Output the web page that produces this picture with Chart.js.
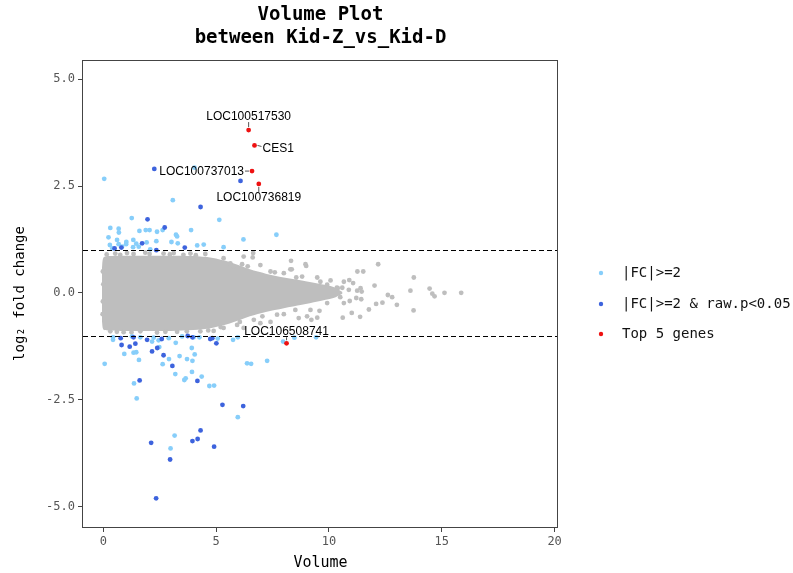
<!DOCTYPE html>
<html>
<head>
<meta charset="utf-8">
<script src="https://cdn.jsdelivr.net/npm/chart.js@4.4.1/dist/chart.umd.min.js"></script>
<style>
html,body{margin:0;padding:0;background:#fff;}
canvas{display:block;}
</style>
</head>
<body>
<canvas id="c" width="793" height="573"></canvas>
<script>
// ---------------- data ----------------
const titleLines = ['Volume Plot', 'between Kid-Z_vs_Kid-D'];
const xTitle = 'Volume';
const yTitle = 'log\u2082 fold change';
const xTicks = [0, 5, 10, 15, 20];
const yTicks = [-5, -2.5, 0, 2.5, 5];
const thresholds = [1, -1];
const legendLabels = ['|FC|>=2', '|FC|>=2 & raw.p<0.05', 'Top 5 genes'];

// top 5 genes (red)
const topGenes = ['LOC100517530', 'CES1', 'LOC100737013', 'LOC100736819', 'LOC106508741'];
const topX = [6.44, 6.70, 6.59, 6.89, 8.12];
const topY = [3.81, 3.45, 2.85, 2.55, -1.18];

// |FC|>=2 (light blue)
const fcX = [0.04,4.04,3.08,1.26,5.14,0.31,0.68,0.69,1.60,1.88,2.05,2.38,2.63,3.89,3.22,0.23,0.61,1.02,1.33,1.46,1.92,2.35,3.02,3.30,6.21,7.67,5.33,0.29,0.83,1.32,1.57,4.16,4.45,0.68,1.01,2.08,3.27,0.40,
  0.43,0.43,0.93,1.34,1.46,1.64,2.16,2.45,2.48,2.90,3.21,1.58,2.91,2.63,0.06,3.38,3.71,3.95,4.05,3.92,3.49,4.00,4.26,5.07,3.19,1.36,3.65,3.59,3.93,4.36,4.70,4.91,1.48,6.37,6.55,7.26,5.75,5.96,7.97,8.47,9.43,5.96,3.16,2.98,1.27,2.23];
const fcY = [2.67,2.93,2.17,1.75,1.71,1.52,1.50,1.41,1.45,1.47,1.47,1.43,1.47,1.47,1.36,1.30,1.24,1.19,1.24,1.15,1.18,1.21,1.19,1.16,1.25,1.36,1.07,1.12,1.08,1.07,1.08,1.11,1.13,1.14,1.14,1.02,1.32,1.04,
  -1.10,-1.04,-1.43,-1.40,-1.39,-1.04,-1.14,-1.11,-1.27,-1.06,-1.17,-1.57,-1.55,-1.67,-1.66,-1.48,-1.55,-1.59,-1.44,-1.29,-1.02,-1.04,-1.04,-1.07,-1.90,-2.12,-2.00,-2.04,-1.85,-1.96,-2.18,-2.17,-2.47,-1.65,-1.66,-1.59,-1.10,-1.04,-1.14,-1.05,-1.04,-2.91,-3.34,-3.64,-1.02,-1.05];

// |FC|>=2 & raw.p<0.05 (dark blue)
const sigX = [2.26,6.08,4.31,1.96,2.72,1.72,0.50,0.80,2.35,3.61,
  0.77,0.81,1.17,1.42,1.34,1.94,2.16,2.39,2.59,2.67,3.06,3.74,3.95,4.74,4.83,5.01,1.61,4.17,5.28,6.20,4.31,2.12,3.95,4.18,4.91,2.96,2.34];
const sigY = [2.90,2.62,2.01,1.72,1.53,1.16,1.04,1.06,1.00,1.06,
  -1.06,-1.22,-1.26,-1.19,-1.04,-1.10,-1.37,-1.29,-1.08,-1.46,-1.71,-1.01,-1.04,-1.08,-1.06,-1.18,-2.05,-2.06,-2.62,-2.65,-3.22,-3.51,-3.47,-3.42,-3.60,-3.90,-4.81];

// non-significant genes: dense core outline (upper / lower boundary of the cloud)
const cloudX =     [-0.06, 0.00, 0.20, 1.00, 2.00, 3.00, 4.00, 4.80, 5.60, 6.50, 7.20, 8.00, 8.80, 9.50, 10.20, 10.60];
const cloudUpper = [ 0.58, 0.82, 0.86, 0.87, 0.87, 0.87, 0.86, 0.82, 0.72, 0.55, 0.45, 0.36, 0.29, 0.22, 0.14, 0.02];
const cloudLower = [-0.66,-0.86,-0.88,-0.89,-0.89,-0.89,-0.87,-0.82,-0.72,-0.55,-0.45,-0.36,-0.28,-0.20,-0.12,-0.02];

// non-significant genes: individual points outside / on the edge of the dense core
const grayX = [6.22,6.62,8.32,8.35,8.99,12.18,11.26,11.52,13.76,10.07,10.66,10.90,11.07,12.02,10.39,10.59,11.40,11.45,11.25,10.88,12.61,12.80,13.61,14.46,14.58,14.68,15.12,15.86,
  10.66,10.92,11.21,11.43,12.09,12.37,13.01,11.77,11.01,10.61,11.38,13.75,9.58,9.22,8.00,8.66,9.03,9.48,6.96,7.41,6.22,8.51,5.78,6.15,6.96,8.29,8.96,8.81,9.48,6.64,
  0.53,1.05,1.34,1.86,2.67,3.12,3.86,4.52,0.31,0.90,1.64,2.38,3.27,4.30,4.89,-0.02,-0.03,0.00,-0.02,
  5.33,5.63,7.41,8.00,9.62,9.92,5.33,5.93,6.67,7.70,9.18,9.92,
  0.15,0.75,2.05,2.95,3.55,4.10,0.60,1.25,2.75,3.70,4.65,5.20,6.05,7.05,6.40,7.60,8.55,10.35,10.50];
const grayY = [0.85,0.83,0.75,0.55,0.63,0.67,0.50,0.50,0.36,0.29,0.26,0.30,0.23,0.17,0.11,0.12,0.11,0.03,0.05,0.07,-0.05,-0.10,0.05,0.10,-0.02,-0.08,0.00,0.00,
  -0.24,-0.19,-0.12,-0.15,-0.26,-0.23,-0.28,-0.39,-0.47,-0.58,-0.56,-0.41,-0.42,-0.63,-0.50,-0.59,-0.55,-0.58,-0.71,-0.68,-0.82,-0.40,0.61,0.67,0.65,0.55,0.67,0.38,0.36,0.93,
  0.92,0.93,0.91,0.94,0.92,0.93,0.92,0.91,-0.90,-0.92,-0.90,-0.93,-0.91,-0.90,-0.89,0.50,-0.50,0.20,-0.20,
  0.81,0.69,0.50,0.46,0.26,0.19,-0.82,-0.75,-0.63,-0.51,-0.40,-0.24,
  0.90,0.89,0.91,0.90,0.89,0.88,-0.91,-0.92,-0.91,-0.90,-0.88,-0.80,-0.68,-0.55,0.62,0.48,0.36,0.12,-0.10];

// ---------------- styles ----------------
const COL_GRAY = '#BEBEBE', COL_LIGHT = '#87CEFA', COL_DARK = '#3D63DD', COL_RED = '#EE1111';
const MONO = '"DejaVu Sans Mono", monospace';
const SANS = '"Liberation Sans", Arial, sans-serif';
const pts = (xs, ys) => xs.map((x, i) => ({x: x, y: ys[i]}));
const R = 2.4;

const legendColors = [COL_LIGHT, COL_DARK, COL_RED];
// label offsets (pixels) relative to each highlighted point, and leader segments
const labelLayout = [
  {dx: 0,   dy: -13, align: 'center', seg: [[0,-8],[0,-3]]},
  {dx: 8,   dy: 3,   align: 'left',   seg: [[3,0],[7,1]]},
  {dx: -8,  dy: 1,   align: 'right',  seg: [[-7,0],[-3,0]]},
  {dx: 0,   dy: 14,  align: 'center', seg: [[0,3],[0,8]]},
  {dx: 0,   dy: -12, align: 'center', seg: [[0,-6],[0,-3]]}
];

const framePlugin = {
  id: 'frame',
  afterDatasetsDraw(chart) {
    const {ctx, chartArea: a, scales} = chart;
    ctx.save();
    ctx.strokeStyle = '#000';
    ctx.lineWidth = 1;
    ctx.setLineDash([5, 3]);
    thresholds.forEach(t => {
      const y = Math.round(scales.y.getPixelForValue(t)) + 0.5;
      ctx.beginPath(); ctx.moveTo(a.left, y); ctx.lineTo(a.right, y); ctx.stroke();
    });
    ctx.setLineDash([]);
    ctx.font = '12px ' + SANS;
    ctx.fillStyle = '#000';
    ctx.textBaseline = 'middle';
    topGenes.forEach((g, i) => {
      const px = scales.x.getPixelForValue(topX[i]);
      const py = scales.y.getPixelForValue(topY[i]);
      const L = labelLayout[i];
      ctx.strokeStyle = '#555';
      ctx.lineWidth = 1;
      ctx.beginPath();
      ctx.moveTo(px + L.seg[0][0], py + L.seg[0][1]);
      ctx.lineTo(px + L.seg[1][0], py + L.seg[1][1]);
      ctx.stroke();
      ctx.textAlign = L.align;
      ctx.fillText(g, px + L.dx, py + L.dy);
    });
    ctx.strokeStyle = '#444';
    ctx.lineWidth = 1;
    ctx.strokeRect(Math.round(a.left) - 0.5, Math.round(a.top) + 0.5, Math.round(a.right - a.left), Math.round(a.bottom - a.top));
    ctx.restore();
  },
  afterDraw(chart) {
    const {ctx} = chart;
    ctx.save();
    ctx.font = '14px ' + MONO;
    ctx.textBaseline = 'middle';
    ctx.textAlign = 'left';
    const ys = [273, 304, 334];
    legendLabels.forEach((t, i) => {
      ctx.fillStyle = legendColors[i];
      ctx.beginPath(); ctx.arc(601, ys[i], 2.2, 0, Math.PI * 2); ctx.fill();
      ctx.fillStyle = '#111';
      ctx.fillText(t, 622, ys[i]);
    });
    ctx.restore();
  }
};

new Chart(document.getElementById('c'), {
  type: 'scatter',
  data: {
    datasets: [
      {label: 'Top 5 genes', data: pts(topX, topY), backgroundColor: COL_RED, pointRadius: R, borderWidth: 0, order: 0},
      {label: '|FC|>=2 & raw.p<0.05', data: pts(sigX, sigY), backgroundColor: COL_DARK, pointRadius: R, borderWidth: 0, order: 1},
      {label: '|FC|>=2', data: pts(fcX, fcY), backgroundColor: COL_LIGHT, pointRadius: R, borderWidth: 0, order: 2},
      {label: 'ns', data: pts(grayX, grayY), backgroundColor: COL_GRAY, pointRadius: R, borderWidth: 0, order: 3},
      {label: 'ns-core-upper', type: 'line', data: pts(cloudX, cloudUpper), borderWidth: 0, pointRadius: 0,
       backgroundColor: COL_GRAY, borderColor: COL_GRAY, fill: '+1', tension: 0.3, order: 4},
      {label: 'ns-core-lower', type: 'line', data: pts(cloudX, cloudLower), borderWidth: 0, pointRadius: 0,
       backgroundColor: COL_GRAY, borderColor: COL_GRAY, fill: false, tension: 0.3, order: 5}
    ]
  },
  options: {
    responsive: false,
    animation: false,
    devicePixelRatio: 1,
    layout: {padding: {left: 0, top: 0, right: 235, bottom: 0}},
    plugins: {
      legend: {display: false},
      tooltip: {enabled: false},
      title: {
        display: true, text: titleLines, fullSize: false,
        font: {family: MONO, size: 19, weight: 'bold', lineHeight: 1.2},
        color: '#000', padding: {top: 3.6, bottom: 10.8}
      }
    },
    scales: {
      x: {
        type: 'linear', min: -0.9, max: 20.15,
        afterBuildTicks: s => { s.ticks = xTicks.map(v => ({value: v})); },
        afterFit: s => { s.height = 46; s.paddingLeft = 0; s.paddingRight = 0; },
        border: {display: false},
        grid: {display: true, drawOnChartArea: false, drawTicks: true, tickLength: 5, tickColor: '#444', tickWidth: 1},
        ticks: {font: {family: MONO, size: 12}, color: '#555', padding: 3, maxRotation: 0,
          callback: v => String(v)},
        title: {display: true, text: xTitle, font: {family: MONO, size: 15}, color: '#000', padding: {top: 0, bottom: 1}}
      },
      y: {
        type: 'linear', min: -5.48, max: 5.45,
        afterBuildTicks: s => { s.ticks = yTicks.map(v => ({value: v})); },
        afterFit: s => { s.width = 83; s.paddingTop = 0; s.paddingBottom = 0; },
        border: {display: false},
        grid: {display: true, drawOnChartArea: false, drawTicks: true, tickLength: 5, tickColor: '#444', tickWidth: 1},
        ticks: {font: {family: MONO, size: 12}, color: '#555', padding: 3,
          callback: v => Number(v).toFixed(1)},
        title: {display: true, text: yTitle, font: {family: MONO, size: 14}, color: '#000', padding: {top: 11.6, bottom: 0}}
      }
    }
  },
  plugins: [framePlugin]
});
</script>
</body>
</html>
